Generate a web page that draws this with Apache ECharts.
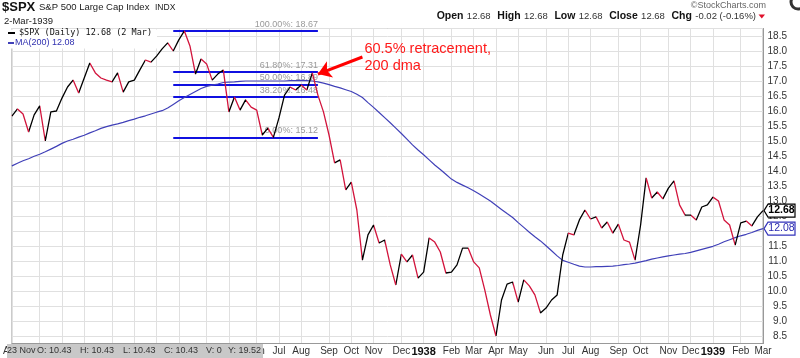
<!DOCTYPE html>
<html><head><meta charset="utf-8">
<script src="https://cdn.jsdelivr.net/npm/echarts@6/dist/echarts.min.js"></script>
<style>html,body{margin:0;padding:0;background:#fff}#c{width:800px;height:358px}</style>
</head><body><div id="c"></div>
<script>
// ---- data (weekly closes; first week ends Fri 1936-07-31) ----
const FIRST_FRIDAY = '1936-07-31';
const LAST_DATE = '1939-03-02';
const closes = [
15.83,16.07,15.90,15.30,15.87,16.17,15.00,15.97,16.00,16.43,
16.80,17.03,16.60,17.10,17.60,17.27,17.10,17.03,16.97,17.27,
16.63,16.97,17.03,17.37,17.70,17.63,17.83,18.07,18.27,18.00,
18.37,18.67,18.17,17.23,17.73,17.57,17.03,17.23,17.37,15.97,
16.47,16.03,16.37,16.13,16.03,15.20,15.43,15.12,15.77,16.53,
16.80,16.70,16.87,16.70,17.27,16.53,15.97,15.20,14.27,14.37,
13.37,13.63,12.70,11.03,11.87,12.20,11.60,11.70,10.87,10.20,
11.23,10.97,11.20,10.43,10.63,11.77,11.63,11.30,10.60,10.63,
10.87,11.43,11.43,10.97,10.77,10.03,9.20,8.50,9.70,10.23,
10.30,9.63,10.37,10.17,9.87,9.27,9.43,9.70,9.87,11.20,
11.93,11.87,12.37,12.70,12.40,12.47,12.10,12.30,11.93,12.23,
11.70,11.63,11.03,12.20,13.77,13.10,13.30,13.07,13.43,13.67,
12.87,12.53,12.53,12.37,12.80,12.87,13.13,13.00,12.37,12.20,
11.53,12.27,12.33,12.17,12.47,12.68];
const ma200 = [
14.17,14.26,14.34,14.41,14.49,14.56,14.64,14.73,14.82,14.92,
15.00,15.06,15.13,15.19,15.27,15.34,15.42,15.48,15.53,15.57,
15.62,15.68,15.73,15.79,15.84,15.90,15.96,16.01,16.10,16.22,
16.34,16.45,16.55,16.65,16.75,16.82,16.86,16.90,16.95,16.96,
16.97,16.99,17.00,17.00,17.00,17.00,17.00,17.00,17.00,17.00,
17.01,17.01,17.02,17.01,17.00,16.97,16.93,16.88,16.82,16.77,
16.71,16.65,16.56,16.45,16.28,16.12,15.95,15.78,15.61,15.43,
15.25,15.06,14.87,14.70,14.54,14.37,14.20,14.05,13.89,13.73,
13.62,13.53,13.44,13.34,13.23,13.12,13.00,12.86,12.72,12.58,
12.45,12.28,12.12,11.96,11.81,11.67,11.51,11.34,11.17,11.02,
10.96,10.89,10.83,10.80,10.80,10.81,10.81,10.82,10.83,10.85,
10.88,10.90,10.93,10.97,11.01,11.06,11.10,11.14,11.17,11.20,
11.23,11.25,11.29,11.34,11.39,11.44,11.49,11.56,11.64,11.71,
11.78,11.84,11.89,11.95,12.02,12.08];
const fibLevels = [18.67, 17.31, 16.89, 16.48, 15.12];
const fibNames  = ['100.00%', '61.80%', '50.00%', '38.20%', '0.00%'];
const FIB_FROM = '1937-02-19', FIB_TO = '1937-08-20';
const ARROW_FROM = ['1937-10-15', 17.80], ARROW_TO = ['1937-08-20', 17.23];
const NOTE_AT = ['1937-10-15', 18.33];
const NOTE_TEXT = '60.5% retracement,\n200 dma';
const LAST_CLOSE = 12.68, LAST_MA = 12.08;
const monthNames = ['Jan','Feb','Mar','Apr','May','Jun','Jul','Aug','Sep','Oct','Nov','Dec'];

// ---- categories: weekly dates ----
const dates = [];
{ let t = Date.parse(FIRST_FRIDAY);
  for (let i = 0; i < closes.length; i++) { dates.push(new Date(t).toISOString().slice(0,10)); t += 7*864e5; }
  dates[dates.length-1] = LAST_DATE; }
// month markers: the week nearest each month start
const monthMark = new Map();
{ let y = 1936, m = 7;
  while (Date.UTC(y, m, 1) <= Date.parse(LAST_DATE) + 864e5) {
    const t = Date.UTC(y, m, 1); let best = 0, bd = Infinity;
    dates.forEach((s, i) => { const d = Math.abs(Date.parse(s) - t); if (d < bd) { bd = d; best = i; } });
    monthMark.set(best, m === 0 ? '{yr|' + y + '}' : monthNames[m]);
    m++; if (m > 11) { m = 0; y++; }
  } }

const RED = '#d2143c', BLUE_MA = '#4040b8', FIB_BLUE = '#1010e0';
const FONT = 'Liberation Sans, Arial, sans-serif';
const pieces = [];
for (let i = 0; i < closes.length - 1; i++) {
  const p = { gte: i, color: closes[i+1] >= closes[i] ? '#000000' : RED };
  if (i === closes.length - 2) p.lte = i + 1; else p.lt = i + 1;
  pieces.push(p);
}

const option = {
  animation: false,
  textStyle: { fontFamily: FONT },
  grid: { left: 5, right: 37, top: 28.5, bottom: 14.5, show: true, borderColor: '#aaa', borderWidth: 1 },
  visualMap: { type: 'piecewise', show: false, dimension: 0, seriesIndex: 0, pieces: pieces, outOfRange: { color: RED } },
  xAxis: {
    type: 'category', data: dates, boundaryGap: false,
    axisLine: { show: true, lineStyle: { color: '#999' } },
    axisTick: { show: false },
    axisLabel: {
      interval: (i) => monthMark.has(i),
      formatter: (v, i) => monthMark.get(i) || '',
      margin: 3, fontSize: 10, color: '#333', fontFamily: FONT,
      rich: { yr: { fontWeight: 'bold', fontSize: 11, color: '#111', fontFamily: FONT } }
    },
    splitLine: { show: true, interval: (i) => monthMark.has(i), lineStyle: { color: '#e0e0e0' } }
  },
  yAxis: {
    type: 'value', position: 'right', min: 8.25, max: 18.75, splitNumber: 21,
    axisLine: { show: true, lineStyle: { color: '#999' } },
    axisTick: { show: false },
    axisLabel: { showMinLabel: false, showMaxLabel: false, formatter: (v) => v.toFixed(1),
      align: 'right', margin: 24, fontSize: 10, color: '#333', fontFamily: FONT },
    splitLine: { show: true, lineStyle: { color: '#e0e0e0' } }
  },
  series: [
    { name: '$SPX', type: 'line', data: closes, showSymbol: false, z: 4,
      lineStyle: { width: 1.3 },
      markLine: { silent: true, z: 10, symbol: ['none', 'arrow'], symbolSize: 13,
        lineStyle: { color: '#ff0000', width: 3, type: 'solid' }, label: { show: false },
        data: [[{ coord: ARROW_FROM }, { coord: ARROW_TO }]] } },
    { name: 'MA(200)', type: 'line', data: ma200, showSymbol: false, z: 3,
      lineStyle: { width: 1.2, color: BLUE_MA }, itemStyle: { color: BLUE_MA },
      markLine: { silent: true, z: 2, symbol: ['none', 'none'],
        lineStyle: { color: FIB_BLUE, width: 2, type: 'solid' },
        label: { show: true, position: 'insideEndTop', distance: [0, 2], color: '#9a9a9a', fontSize: 9, fontFamily: FONT },
        data: fibLevels.map((lv, i) => [
          { coord: [FIB_FROM, lv], label: { formatter: fibNames[i] + ': ' + lv.toFixed(2) } },
          { coord: [FIB_TO, lv] }]) } }
  ]
};

const chart = echarts.init(document.getElementById('c'));
chart.setOption(option);

const P = (d, v) => chart.convertToPixel({ gridIndex: 0 }, [d, v]);
const yP = (v) => chart.convertToPixel({ yAxisIndex: 0 }, v);
const note = P(NOTE_AT[0], NOTE_AT[1]);
const yC = yP(LAST_CLOSE), yM = yP(LAST_MA);
const tag = (yc, stroke, txt, col, bold) => ([
  { type: 'polygon', z: 50, shape: { points: [[764, yc], [768, yc-6.5], [795, yc-6.5], [795, yc+6.5], [768, yc+6.5]] },
    style: { fill: '#fff', stroke: stroke, lineWidth: 1.2 } },
  { type: 'text', z: 51, x: 781.5, y: yc, style: { text: txt, fill: col, fontSize: 10.5, fontWeight: bold ? 'bold' : 'normal',
    fontFamily: FONT, align: 'center', verticalAlign: 'middle' } }
]);
const tip = (x, t) => ({ type: 'text', z: 101, x: x, y: 351, style: { text: t, fill: '#333', fontSize: 9, fontFamily: FONT, verticalAlign: 'middle' } });

chart.setOption({ graphic: [
  { type: 'text', x: 2, y: 7, style: { text: '$SPX', fontSize: 13, fontWeight: 'bold', fill: '#111', fontFamily: FONT, verticalAlign: 'middle' } },
  { type: 'text', x: 39, y: 7.5, style: { text: 'S&P 500 Large Cap Index', fontSize: 9.5, fill: '#222', fontFamily: FONT, verticalAlign: 'middle' } },
  { type: 'text', x: 155, y: 8, style: { text: 'INDX', fontSize: 8.5, fill: '#222', fontFamily: FONT, verticalAlign: 'middle' } },
  { type: 'text', x: 4, y: 21, style: { text: '2-Mar-1939', fontSize: 9.5, fill: '#222', fontFamily: FONT, verticalAlign: 'middle' } },
  { type: 'text', x: 766, y: 6, style: { text: '©StockCharts.com', fontSize: 9, fill: '#666', fontFamily: FONT, align: 'right', verticalAlign: 'middle' } },
  { type: 'circle', shape: { cx: 798, cy: 2, r: 7 }, style: { fill: '#fff', stroke: '#333', lineWidth: 3 } },
  { type: 'text', x: 756, y: 16.5, style: {
      text: '{b|Open} {n|12.68}  {b|High} {n|12.68}  {b|Low} {n|12.68}  {b|Close} {n|12.68}  {b|Chg} {n|-0.02 (-0.16%)}',
      align: 'right', verticalAlign: 'middle', fontFamily: FONT,
      rich: { b: { fontWeight: 'bold', fontSize: 10.5, fill: '#111', fontFamily: FONT },
              n: { fontSize: 9.5, fill: '#333', fontFamily: FONT } } } },
  { type: 'polygon', shape: { points: [[758.5, 14.5], [765, 14.5], [761.75, 18.5]] }, style: { fill: '#e0102a' } },
  // legend box
  { type: 'rect', z: 20, shape: { x: 6, y: 29.5, width: 151, height: 19 }, style: { fill: '#fff' } },
  { type: 'line', z: 21, shape: { x1: 8, y1: 33, x2: 15, y2: 33 }, style: { stroke: '#000', lineWidth: 2 } },
  { type: 'text', z: 21, x: 19, y: 33, style: { text: '$SPX (Daily) 12.68 (2 Mar)', fontSize: 8.5, fill: '#111', fontFamily: 'DejaVu Sans Mono, monospace', verticalAlign: 'middle' } },
  { type: 'line', z: 21, shape: { x1: 8, y1: 43, x2: 14, y2: 43 }, style: { stroke: BLUE_MA, lineWidth: 2 } },
  { type: 'text', z: 21, x: 15, y: 43, style: { text: 'MA(200) 12.08', fontSize: 9, fill: '#3030b0', fontFamily: FONT, verticalAlign: 'middle' } },
  // annotation
  { type: 'text', z: 60, x: note[0] + 2, y: note[1], style: { text: NOTE_TEXT, fontSize: 14.5, lineHeight: 16.5, fill: '#ff1a1a', fontFamily: FONT, verticalAlign: 'top' } },
  // value tags
  ...tag(yC, '#000', LAST_CLOSE.toFixed(2), '#000', true),
  ...tag(yM, '#3333bb', LAST_MA.toFixed(2), '#2a2ab0', false),
  // crosshair readout box
  { type: 'rect', z: 100, shape: { x: 7, y: 344, width: 256, height: 14 }, style: { fill: '#c8c8c8' } },
  tip(7, '23 Nov'), tip(37, 'O: 10.43'), tip(80, 'H: 10.43'), tip(123, 'L: 10.43'),
  tip(164, 'C: 10.43'), tip(206, 'V: 0'), tip(228, 'Y: 19.52')
] });
</script></body></html>
